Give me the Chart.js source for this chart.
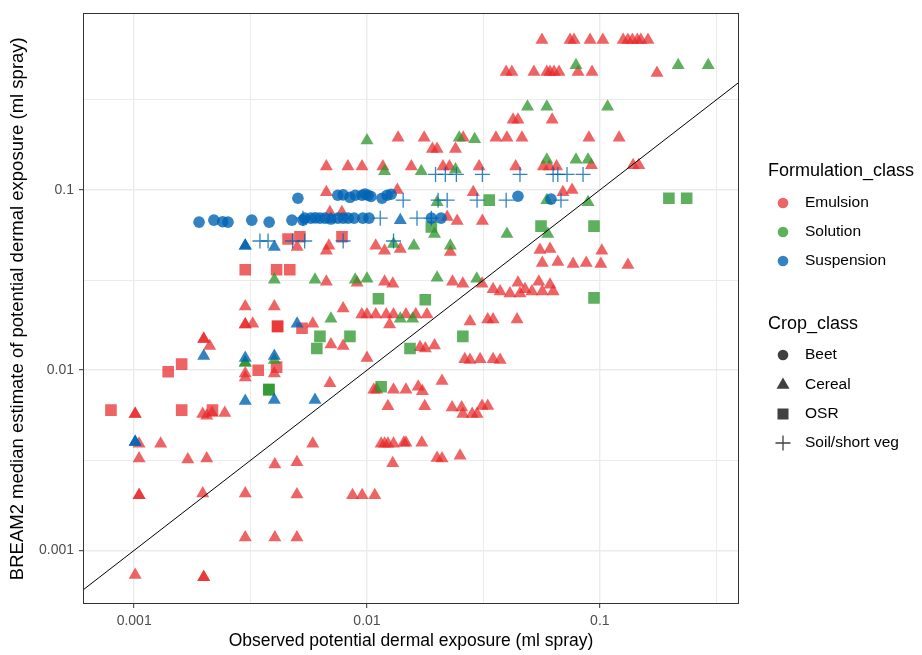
<!DOCTYPE html>
<html>
<head>
<meta charset="utf-8">
<title>BREAM2 vs observed potential dermal exposure</title>
<script src="https://cdn.jsdelivr.net/npm/chart.js@4.4.1/dist/chart.umd.min.js"></script>
<style>
  html, body { margin: 0; padding: 0; background: #fff; }
  #wrap { width: 922px; height: 655px; }
</style>
</head>
<body>
<div id="wrap"><canvas id="exposureChart" width="922" height="655"></canvas></div>
<script>
// axis ranges (log scales) and tick positions
const xRange = [0.000603, 0.396];
const yRange = [0.000504, 0.955];
const majorTicks = [0.001, 0.01, 0.1];
const minorTicks = [0.00316, 0.0316, 0.316];
const tickLabels = ['0.001', '0.01', '0.1'];

const xTitle = 'Observed potential dermal exposure (ml spray)';
const yTitle = 'BREAM2 median estimate of potential dermal exposure (ml spray)';

const formulationLabels = ['Emulsion', 'Solution', 'Suspension'];
const cropLabels = ['Beet', 'Cereal', 'OSR', 'Soil/short veg'];

// [observed, BREAM2 estimate] pairs
const emulsionCereal = [
  [0.0564, 0.68], [0.0745, 0.68], [0.0775, 0.68], [0.0908, 0.68], [0.103, 0.68], [0.126, 0.68],
  [0.132, 0.68], [0.138, 0.68], [0.145, 0.68], [0.150, 0.68], [0.161, 0.68],
  [0.0396, 0.452], [0.0419, 0.452], [0.0521, 0.452], [0.0592, 0.452], [0.0611, 0.452], [0.0636, 0.452],
  [0.0668, 0.452], [0.0806, 0.452], [0.0926, 0.452], [0.176, 0.446],
  [0.0424, 0.245], [0.0445, 0.245], [0.0624, 0.245],
  [0.0136, 0.195], [0.0176, 0.195], [0.0259, 0.195], [0.0358, 0.195], [0.0399, 0.195], [0.0463, 0.195],
  [0.0898, 0.195], [0.121, 0.195],
  [0.0191, 0.169], [0.0200, 0.169], [0.0240, 0.169],
  [0.00669, 0.135], [0.00828, 0.135], [0.00952, 0.135], [0.0117, 0.135], [0.0155, 0.135], [0.0212, 0.135],
  [0.0226, 0.135], [0.0303, 0.135], [0.0435, 0.135], [0.0572, 0.135], [0.0607, 0.135], [0.0652, 0.135],
  [0.092, 0.137], [0.139, 0.137], [0.147, 0.137],
  [0.00669, 0.097], [0.0135, 0.1], [0.0286, 0.097], [0.0694, 0.097], [0.076, 0.1],
  [0.00693, 0.0753], [0.0078, 0.0753], [0.0221, 0.0707], [0.0244, 0.0673], [0.0313, 0.0673],
  [0.00501, 0.0483], [0.00686, 0.0491], [0.00669, 0.046], [0.0109, 0.0491], [0.0119, 0.046], [0.0139, 0.047],
  [0.0228, 0.0453], [0.0553, 0.0465], [0.0611, 0.047], [0.102, 0.046],
  [0.0566, 0.0394], [0.066, 0.0399], [0.0768, 0.0389], [0.0874, 0.0394], [0.101, 0.0389], [0.132, 0.0384],
  [0.00669, 0.031], [0.00907, 0.0306], [0.0119, 0.031], [0.0129, 0.0302], [0.0233, 0.031], [0.0258, 0.0302],
  [0.0312, 0.0302], [0.0348, 0.0281], [0.0373, 0.0273], [0.0411, 0.0266], [0.0445, 0.0306], [0.0454, 0.0266],
  [0.0477, 0.0281], [0.0511, 0.0273], [0.0547, 0.031], [0.0566, 0.0273], [0.0611, 0.0298], [0.063, 0.0273],
  [0.003, 0.0226], [0.004, 0.0226], [0.0079, 0.022],
  [0.0095, 0.0204], [0.01, 0.0204], [0.0109, 0.0204], [0.0121, 0.0204], [0.013, 0.0204], [0.0147, 0.0204],
  [0.0162, 0.0204], [0.0181, 0.0204],
  [0.0125, 0.0179], [0.00585, 0.0181], [0.0277, 0.0186], [0.033, 0.0191], [0.0348, 0.0191], [0.0441, 0.0191],
  [0.003, 0.0179], [0.003, 0.0179], [0.00323, 0.0181],
  [0.00199, 0.0149], [0.00199, 0.0149], [0.00211, 0.0136],
  [0.007, 0.0139], [0.0079, 0.0136], [0.0169, 0.0134], [0.0178, 0.0132], [0.0195, 0.0137],
  [0.01, 0.0117],
  [0.0263, 0.0115], [0.0277, 0.0114], [0.0306, 0.0115], [0.0348, 0.0115], [0.0373, 0.0114],
  [0.003, 0.0096], [0.003, 0.0091], [0.004, 0.0096],
  [0.00693, 0.00847], [0.0107, 0.0078], [0.011, 0.0078], [0.013, 0.0078], [0.0147, 0.0078], [0.0166, 0.0081],
  [0.0173, 0.00765], [0.021, 0.0087],
  [0.0123, 0.0063], [0.0177, 0.0063], [0.0232, 0.0062], [0.0255, 0.0062], [0.0258, 0.00572], [0.0283, 0.00572],
  [0.0297, 0.00572], [0.0312, 0.00633], [0.033, 0.00633],
  [0.00101, 0.00572], [0.00101, 0.00572], [0.00197, 0.00572], [0.00205, 0.00558], [0.00216, 0.00579], [0.00245, 0.00579],
  [0.00105, 0.00391], [0.0013, 0.00391], [0.00585, 0.00391], [0.0115, 0.00391], [0.0119, 0.00391], [0.0123, 0.00391],
  [0.013, 0.00391], [0.0144, 0.00396], [0.0147, 0.00396], [0.0172, 0.00396],
  [0.00105, 0.00323], [0.0017, 0.00319], [0.00205, 0.00323], [0.00402, 0.003], [0.005, 0.00308], [0.0129, 0.00304],
  [0.02, 0.00326], [0.021, 0.00323], [0.0251, 0.00335],
  [0.00105, 0.00202], [0.00105, 0.00202], [0.00197, 0.00207], [0.003, 0.00207], [0.005, 0.00204],
  [0.00867, 0.00202], [0.00953, 0.00202], [0.0108, 0.00202],
  [0.003, 0.00118], [0.00402, 0.00118], [0.005, 0.00118],
  [0.00101, 0.00073], [0.00199, 0.00071], [0.00199, 0.00071]
];

const emulsionOsr = [
  [0.000795, 0.006], [0.0016, 0.006], [0.00217, 0.006], [0.0014, 0.0098], [0.0016, 0.0108],
  [0.00341, 0.01], [0.00409, 0.0104], [0.003, 0.0361], [0.00409, 0.0361], [0.00466, 0.0361],
  [0.00413, 0.0175], [0.00413, 0.0175], [0.00458, 0.0535], [0.00515, 0.055], [0.00781, 0.055], [0.00526, 0.0171]
];

const solutionCereal = [
  [0.079, 0.493], [0.217, 0.493], [0.292, 0.493], [0.0489, 0.29], [0.0592, 0.29], [0.108, 0.29],
  [0.01, 0.188], [0.0249, 0.195], [0.029, 0.191], [0.0119, 0.127], [0.0171, 0.127], [0.024, 0.13],
  [0.0592, 0.147], [0.079, 0.147], [0.089, 0.147], [0.02, 0.0855], [0.0592, 0.0878], [0.089, 0.0855],
  [0.0399, 0.0569], [0.0598, 0.0569], [0.0195, 0.0569], [0.013, 0.0502], [0.0159, 0.0491], [0.0228, 0.0491],
  [0.004, 0.0318], [0.00598, 0.0318], [0.0089, 0.0318], [0.01, 0.0322], [0.02, 0.0326], [0.0296, 0.0322],
  [0.007, 0.0193], [0.0139, 0.0193], [0.0157, 0.0193], [0.003, 0.011], [0.003, 0.011], [0.004, 0.0114]
];

const solutionOsr = [
  [0.00379, 0.0078], [0.00379, 0.0078], [0.0115, 0.0081], [0.00609, 0.0132], [0.00628, 0.0154],
  [0.00845, 0.0154], [0.0153, 0.0132], [0.0258, 0.0154], [0.0112, 0.0249], [0.0178, 0.0246],
  [0.0189, 0.0623], [0.0335, 0.0878], [0.0559, 0.063], [0.0944, 0.063], [0.0944, 0.0252],
  [0.198, 0.09], [0.236, 0.09]
];

const suspensionBeet = [
  [0.00505, 0.09], [0.00749, 0.0935], [0.0079, 0.094], [0.00845, 0.0911], [0.0089, 0.0935], [0.00952, 0.0935],
  [0.0098, 0.095], [0.0101, 0.0935], [0.0104, 0.092], [0.0116, 0.09], [0.0122, 0.0935], [0.0127, 0.0947],
  [0.0445, 0.0923], [0.0617, 0.089],
  [0.0019, 0.0663], [0.0022, 0.068], [0.0024, 0.0667], [0.00253, 0.0663], [0.0032, 0.068], [0.0038, 0.0663],
  [0.00476, 0.068], [0.00531, 0.068], [0.0054, 0.0698], [0.00574, 0.0698], [0.006, 0.07], [0.00628, 0.0698],
  [0.0066, 0.0698], [0.007, 0.069], [0.0075, 0.0698], [0.0079, 0.0698], [0.0083, 0.0698], [0.0088, 0.0698],
  [0.0096, 0.0698], [0.0102, 0.0698], [0.0189, 0.0698], [0.0208, 0.0698]
];

const suspensionCereal = [
  [0.003, 0.0491], [0.003, 0.0491], [0.004, 0.0483], [0.007, 0.069], [0.0139, 0.068], [0.00501, 0.0181],
  [0.00199, 0.012], [0.003, 0.0117], [0.004, 0.012], [0.003, 0.00674], [0.004, 0.00683], [0.00598, 0.00683],
  [0.00101, 0.004], [0.00101, 0.004]
];

const suspensionSoil = [
  [0.0197, 0.122], [0.0217, 0.122], [0.0242, 0.122], [0.0313, 0.122], [0.0454, 0.122], [0.063, 0.122],
  [0.066, 0.122], [0.0723, 0.122], [0.0847, 0.122],
  [0.0143, 0.0878], [0.0202, 0.0878], [0.0221, 0.0878], [0.0297, 0.0878], [0.0396, 0.0878], [0.0681, 0.0878],
  [0.00531, 0.0698], [0.0114, 0.0698], [0.0164, 0.0698], [0.0189, 0.0698],
  [0.00347, 0.0521], [0.00376, 0.0521], [0.00479, 0.0521], [0.0054, 0.0521], [0.0079, 0.0521], [0.013, 0.0521]
];

const RED = 'rgba(232, 40, 42, 0.72)';
const GREEN = 'rgba(40, 150, 40, 0.75)';
const BLUE = 'rgba(0, 100, 180, 0.8)';
const FONT = '"Liberation Sans", Arial, Helvetica, sans-serif';

function toPoints(pairs) {
    return pairs.map(p => ({ x: p[0], y: p[1] }));
}

function scatterSet(label, pairs, color, style, radius) {
    const isCross = style === 'cross';
    return {
        label: label,
        data: toPoints(pairs),
        pointStyle: style,
        pointRadius: radius,
        backgroundColor: isCross ? 'rgba(0,0,0,0)' : color,
        borderColor: isCross ? color : 'rgba(0,0,0,0)',
        borderWidth: isCross ? 1.3 : 0,
        order: 1
    };
}

function isMajor(value) {
    return majorTicks.some(m => Math.abs(Math.log10(value) - Math.log10(m)) < 1e-6);
}

function tickLabel(value) {
    const i = majorTicks.findIndex(m => Math.abs(Math.log10(value) - Math.log10(m)) < 1e-6);
    return i >= 0 ? tickLabels[i] : '';
}

function logAxis(range, title, titleSize, titlePadding) {
    return {
        type: 'logarithmic',
        min: range[0],
        max: range[1],
        bounds: 'data',
        afterBuildTicks: scale => {
            scale.ticks = majorTicks.concat(minorTicks).sort((a, b) => a - b).map(v => ({ value: v }));
        },
        grid: {
            color: '#EBEBEB',
            lineWidth: c => (c.tick && isMajor(c.tick.value) ? 1.4 : 1),
            tickLength: 4,
            tickColor: c => (c.tick && isMajor(c.tick.value) ? '#333333' : 'rgba(0,0,0,0)'),
            tickWidth: 1
        },
        border: { display: false },
        ticks: {
            autoSkip: false,
            maxRotation: 0,
            color: '#4D4D4D',
            font: { family: FONT, size: 14 },
            padding: 5,
            callback: value => tickLabel(value)
        },
        title: {
            display: true,
            text: title,
            color: '#000',
            font: { family: FONT, size: titleSize },
            padding: titlePadding
        }
    };
}

// panel border and the two-part legend on the right
const panelAndLegend = {
    id: 'panelAndLegend',
    afterDraw(chart) {
        const { ctx, chartArea: a } = chart;
        ctx.save();
        ctx.strokeStyle = '#333333';
        ctx.lineWidth = 1;
        ctx.strokeRect(Math.round(a.left) + 0.5, Math.round(a.top) + 0.5,
            Math.round(a.right - a.left) - 1, Math.round(a.bottom - a.top) - 1);

        ctx.textBaseline = 'middle';
        ctx.textAlign = 'left';
        ctx.fillStyle = '#000';
        ctx.font = '18px ' + FONT;
        ctx.fillText('Formulation_class', 768, 171);
        ctx.fillText('Crop_class', 768, 324);

        const fColors = [RED, GREEN, BLUE];
        const fY = [203, 232, 261];
        ctx.font = '15.5px ' + FONT;
        formulationLabels.forEach((lab, i) => {
            ctx.fillStyle = fColors[i];
            ctx.beginPath();
            ctx.arc(783, fY[i], 5.3, 0, Math.PI * 2);
            ctx.fill();
            ctx.fillStyle = '#000';
            ctx.fillText(lab, 805, fY[i]);
        });

        const cY = [355, 385, 414, 443];
        const sx = 783;
        ctx.fillStyle = '#404040';
        ctx.strokeStyle = '#404040';
        // Beet
        ctx.beginPath(); ctx.arc(sx, cY[0], 5.3, 0, Math.PI * 2); ctx.fill();
        // Cereal
        ctx.beginPath();
        ctx.moveTo(sx, cY[1] - 7.5);
        ctx.lineTo(sx + 6.5, cY[1] + 3.75);
        ctx.lineTo(sx - 6.5, cY[1] + 3.75);
        ctx.closePath(); ctx.fill();
        // OSR
        ctx.fillRect(sx - 5.5, cY[2] - 5.5, 11, 11);
        // Soil/short veg
        ctx.lineWidth = 1.3;
        ctx.beginPath();
        ctx.moveTo(sx - 7.5, cY[3]); ctx.lineTo(sx + 7.5, cY[3]);
        ctx.moveTo(sx, cY[3] - 7.5); ctx.lineTo(sx, cY[3] + 7.5);
        ctx.stroke();

        ctx.fillStyle = '#000';
        cropLabels.forEach((lab, i) => ctx.fillText(lab, 805, cY[i]));
        ctx.restore();
    }
};

document.addEventListener('DOMContentLoaded', function () {
    const ctx = document.getElementById('exposureChart').getContext('2d');

    new Chart(ctx, {
        type: 'scatter',
        data: {
            datasets: [
                {
                    label: '1:1',
                    data: [{ x: xRange[0], y: xRange[0] }, { x: xRange[1], y: xRange[1] }],
                    showLine: true,
                    borderColor: '#000',
                    borderWidth: 1,
                    pointRadius: 0,
                    order: 0
                },
                scatterSet('Suspension / Soil', suspensionSoil, BLUE, 'cross', 7.5),
                scatterSet('Suspension / Beet', suspensionBeet, BLUE, 'circle', 5.8),
                scatterSet('Suspension / Cereal', suspensionCereal, BLUE, 'triangle', 7.5),
                scatterSet('Solution / OSR', solutionOsr, GREEN, 'rect', 8.2),
                scatterSet('Solution / Cereal', solutionCereal, GREEN, 'triangle', 7.5),
                scatterSet('Emulsion / OSR', emulsionOsr, RED, 'rect', 8.2),
                scatterSet('Emulsion / Cereal', emulsionCereal, RED, 'triangle', 7.5)
            ]
        },
        options: {
            responsive: false,
            animation: false,
            devicePixelRatio: 1,
            events: [],
            layout: { padding: { left: 0, right: 183, top: 10, bottom: 0 } },
            plugins: {
                legend: { display: false },
                tooltip: { enabled: false }
            },
            scales: {
                x: Object.assign(logAxis(xRange, xTitle, 17.5, { top: 0, bottom: 3.5 }), {
                    afterFit: scale => { scale.height = 51; }
                }),
                y: Object.assign(logAxis(yRange, yTitle, 18.5, { top: 6.9, bottom: 0 }), {
                    afterFit: scale => { scale.width = 83; }
                })
            }
        },
        plugins: [panelAndLegend]
    });
});
</script>
</body>
</html>
